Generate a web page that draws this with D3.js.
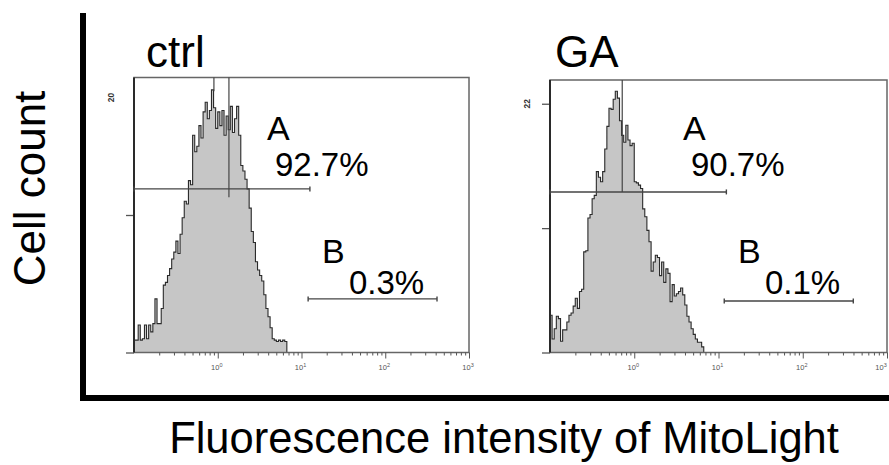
<!DOCTYPE html>
<html>
<head>
<meta charset="utf-8">
<script src="https://cdn.jsdelivr.net/npm/d3@7"></script>
<style>
  body { margin: 0; background: #fff; }
  svg { display: block; font-family: "Liberation Sans", Arial, sans-serif; }
</style>
</head>
<body>
<div id="chart"></div>
<script>
// histogram bins: log10 decades, starting at 10^-1
const binStart = -1
const binWidth = 0.025

const panelNames = ['ctrl', 'GA']

const ctrlCounts = [0.9, 0.9, 2.0, 0.9, 1.0, 2.0, 1.0, 2.0, 1.5, 2.1, 3.9, 2.1, 2.1, 3.2, 4.9, 5.1,
  5.6, 6.1, 6.8, 7.3, 8.1, 7.2, 8.6, 9.8, 11.0, 10.8, 12.5, 12.2, 15.8, 14.6, 15.0, 16.5,
  15.6, 17.5, 18.2, 17.0, 17.6, 19.1, 17.8, 16.3, 17.5, 16.5, 17.6, 15.8, 17.2, 16.2, 17.9,
  16.0, 17.0, 17.9, 15.8, 13.6, 13.2, 12.6, 11.9, 10.5, 8.8, 8.0, 6.6, 6.0, 5.6, 5.2, 4.2,
  3.2, 2.6, 1.8, 1.0, 0.9, 0.8, 0.9, 0.8, 0.9, 0.8]

const gaCounts = [3.3, 1.2, 2.1, 3.2, 3.0, 1.0, 2.0, 2.0, 2.7, 3.3, 3.5, 4.1, 4.8, 3.9, 5.4, 5.6,
  8.9, 9.0, 11.9, 12.2, 13.6, 13.9, 16.0, 15.5, 15.1, 16.0, 18.0, 20.0, 21.6, 21.5, 22.4,
  23.1, 22.5, 20.5, 19.2, 18.6, 20.1, 18.8, 18.3, 18.5, 15.1, 15.0, 14.8, 14.5, 12.7, 12.0,
  10.8, 9.8, 7.2, 8.0, 8.6, 8.4, 6.8, 8.0, 6.2, 7.4, 7.0, 4.5, 6.0, 5.0, 5.2, 5.4, 5.7, 5.1,
  4.2, 3.2, 2.7, 2.1, 1.6, 1.2, 0.9, 0.9, 0.5]

const yTops = [20, 24.1]
const yTickValues = [[0, 10], [0, 11, 22]]
const yMaxLabels = [20, 22]

// gates: [from, to, count level]
const gateA = [[0.1, 12.6, 11.9], [0.1, 12.4, 14.2]]
const gateB = [[12.0, 415, 3.9], [11.7, 398, 4.56]]
const gateNames = ['A', 'B']
const pctA = ['92.7%', '90.7%']
const pctB = ['0.3%', '0.1%']

// marker lines from the top of the plot: [value, count reached]
const markers = [[[0.9, 19.0], [1.36, 11.3]], [[0.72, 14.2]]]

const xDomain = [0.1, 1000]
const xMajor = [1, 10, 100, 1000]
const xExp = ['0', '1', '2', '3']

const xTitle = 'Fluorescence intensity of MitoLight'
const yTitle = 'Cell count'

const width = 889
const height = 465
const boxes = [
  {left: 134, right: 469, top: 77.5, bottom: 352.5},
  {left: 550, right: 887, top: 80, bottom: 352.5}
]

const svg = d3.select('#chart').append('svg')
  .attr('width', width)
  .attr('height', height)

svg.append('rect').attr('width', width).attr('height', height).attr('fill', '#fff')

function drawPanel(p) {
  const box = boxes[p]
  const counts = p === 0 ? ctrlCounts : gaCounts
  const x = d3.scaleLog().domain(xDomain).range([box.left, box.right])
  const y = d3.scaleLinear().domain([0, yTops[p]]).range([box.bottom, box.top])
  const g = svg.append('g')

  // histogram as a step area
  let pts = counts.map((c, i) => ({v: Math.pow(10, binStart + i * binWidth), c: c}))
  pts.push({v: Math.pow(10, binStart + counts.length * binWidth), c: counts[counts.length - 1]})
  const area = d3.area()
    .curve(d3.curveStepAfter)
    .x(d => x(d.v))
    .y0(y(0))
    .y1(d => y(d.c))
  g.append('path')
    .datum(pts)
    .attr('d', area)
    .attr('fill', '#c6c6c6')
  const line = d3.line()
    .curve(d3.curveStepAfter)
    .x(d => x(d.v))
    .y(d => y(d.c))
  let outline = pts.slice()
  outline.push({v: pts[pts.length - 1].v, c: 0})
  g.append('path')
    .datum(outline)
    .attr('d', line)
    .attr('fill', 'none')
    .attr('stroke', '#2a2a2a')
    .attr('stroke-width', 1.1)

  // frame
  g.append('rect')
    .attr('x', box.left).attr('y', box.top)
    .attr('width', box.right - box.left).attr('height', box.bottom - box.top)
    .attr('fill', 'none').attr('stroke', '#666').attr('stroke-width', 1.5)

  markers[p].forEach(m => {
    g.append('line')
      .attr('x1', x(m[0])).attr('x2', x(m[0]))
      .attr('y1', box.top).attr('y2', y(m[1]))
      .attr('stroke', '#444').attr('stroke-width', 1.2)
  })

  // x axis: minor + major ticks
  let minor = []
  for (let e = -1; e < 3; e++) {
    for (let k = 2; k <= 9; k++) minor.push(k * Math.pow(10, e))
  }
  g.append('g')
    .attr('transform', `translate(0,${box.bottom})`)
    .call(d3.axisBottom(x).tickValues(minor).tickSize(3).tickFormat(''))
    .call(a => a.select('.domain').remove())
    .call(a => a.selectAll('line').attr('stroke', '#555'))
  g.append('g')
    .attr('transform', `translate(0,${box.bottom})`)
    .call(d3.axisBottom(x).tickValues(xMajor).tickSize(6).tickFormat(''))
    .call(a => a.select('.domain').remove())
    .call(a => a.selectAll('line').attr('stroke', '#555'))
  xMajor.forEach((v, i) => {
    // keep the last label inside the picture
    const tx = Math.min(x(v) - 1, width - 8)
    const t = g.append('text')
      .attr('x', tx)
      .attr('y', box.bottom + 17)
      .attr('text-anchor', 'middle')
      .attr('font-size', 7.5)
      .attr('fill', '#555')
    t.append('tspan').text('10')
    t.append('tspan').attr('dy', -3).attr('font-size', 5.5).text(xExp[i])
  })

  // y axis
  g.append('g')
    .attr('transform', `translate(${box.left},0)`)
    .call(d3.axisLeft(y).tickValues(yTickValues[p]).tickSize(8).tickFormat(''))
    .call(a => a.select('.domain').remove())
    .call(a => a.selectAll('line').attr('stroke', '#555').attr('stroke-width', 1.3))
  g.append('line')
    .attr('x1', box.left).attr('x2', box.left)
    .attr('y1', box.top).attr('y2', box.bottom)
    .attr('stroke', '#2a2a2a').attr('stroke-width', 2)
  const ly = Math.max(y(yMaxLabels[p]), box.top + 20)
  g.append('text')
    .attr('transform', `translate(${box.left - 20},${ly}) rotate(-90)`)
    .attr('text-anchor', 'middle')
    .attr('font-size', 8.5)
    .attr('font-weight', 'bold')
    .attr('fill', '#333')
    .text(yMaxLabels[p])

  // gates
  ;[gateA[p], gateB[p]].forEach(gt => {
    const gy = y(gt[2])
    g.append('line')
      .attr('x1', x(gt[0])).attr('x2', x(gt[1]))
      .attr('y1', gy).attr('y2', gy)
      .attr('stroke', '#444').attr('stroke-width', 1.4)
    ;[gt[0], gt[1]].forEach(v => {
      g.append('line')
        .attr('x1', x(v)).attr('x2', x(v))
        .attr('y1', gy - 2.5).attr('y2', gy + 2.5)
        .attr('stroke', '#444').attr('stroke-width', 1.4)
    })
  })

  g.append('text').attr('x', box.left + 133).attr('y', 140)
    .attr('font-size', 34).text(gateNames[0])
  g.append('text').attr('x', box.left + 141).attr('y', 176)
    .attr('font-size', 33).text(pctA[p])
  g.append('text').attr('x', box.left + 188).attr('y', 262.5)
    .attr('font-size', 34).text(gateNames[1])
  g.append('text').attr('x', box.left + 215).attr('y', 293.5)
    .attr('font-size', 33).text(pctB[p])

  g.append('text').attr('x', box.left + (p === 0 ? 12 : 5)).attr('y', 67)
    .attr('font-size', 44).text(panelNames[p])
}

drawPanel(0)
drawPanel(1)

// outer L-shaped axes
svg.append('line')
  .attr('x1', 83).attr('x2', 83).attr('y1', 13).attr('y2', 401)
  .attr('stroke', '#000').attr('stroke-width', 6)
svg.append('line')
  .attr('x1', 80).attr('x2', width).attr('y1', 398).attr('y2', 398)
  .attr('stroke', '#000').attr('stroke-width', 6)

svg.append('text')
  .attr('transform', 'translate(45,188.5) rotate(-90)')
  .attr('text-anchor', 'middle')
  .attr('font-size', 44)
  .text(yTitle)

svg.append('text')
  .attr('x', 504).attr('y', 453)
  .attr('text-anchor', 'middle')
  .attr('font-size', 43.5)
  .text(xTitle)
</script>
</body>
</html>
